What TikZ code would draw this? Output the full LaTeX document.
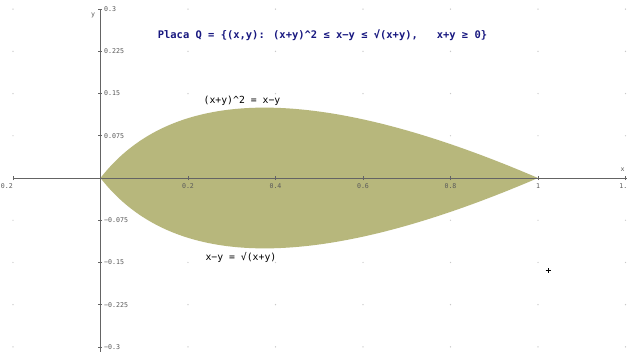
\documentclass[tikz,border=0pt]{standalone}
\usepackage{fontspec}
\newfontfamily\monof{DejaVu Sans Mono}
\definecolor{regionfill}{RGB}{183,183,124}
\definecolor{titleblue}{RGB}{24,24,128}
\definecolor{axisgray}{RGB}{100,100,100}
\definecolor{ticklab}{RGB}{90,90,90}
\definecolor{dotgray}{RGB}{200,200,200}
\begin{document}
\begin{tikzpicture}[x=437.5pt,y=563pt,
  axisline/.style={draw=axisgray,line width=0.9pt},
  tickmark/.style={draw=axisgray,line width=0.6pt},
  ticktext/.style={text=ticklab,font=\monof\fontsize{6.6}{7}\selectfont,inner sep=0pt},
  curvelabel/.style={font=\monof\fontsize{9.8}{11}\selectfont,inner sep=0pt},
  titletext/.style={font=\monof\bfseries\fontsize{10.45}{12}\selectfont,text=titleblue,inner sep=0pt},
  griddot/.style={fill=dotgray}]
\useasboundingbox (-0.22971,-0.30728) rectangle (1.20571,0.31616);
\clip (-0.22971,-0.30728) rectangle (1.20571,0.31616);
\fill[white] (-0.22971,-0.30728) rectangle (1.20571,0.31616);
% grid dots
\foreach \gx in {-0.2,0.2,0.4,0.6,0.8,1,1.2}{
  \foreach \gy in {-0.3,-0.225,-0.15,-0.075,0.075,0.15,0.225,0.3}{
    \fill[griddot] (\gx,\gy) circle[radius=0.7pt];
  }
}
% region
\fill[regionfill] plot[domain=0:1,samples=120,variable=\u] ({(\u+\u*\u)/2},{(\u-\u*\u)/2})
  -- plot[domain=1:0,samples=120,variable=\u] ({(\u*\u+\u)/2},{(\u*\u-\u)/2}) -- cycle;
% axes
\coordinate (xl) at (-0.2,0);
\coordinate (xr) at (1.2035,0);
\coordinate (yb) at (0,-0.31);
\coordinate (yt) at (0,0.301);
\draw[axisline] (xl) -- (xr);
\draw[axisline] (yb) -- (yt);
% x ticks
\foreach \tx in {-0.2,0.2,0.4,0.6,0.8,1,1.2}{
  \draw[tickmark] (\tx,0) ++(0,-2pt) -- ++(0,4pt);
}
\foreach \tx/\tl in {0.2/0.2,0.4/0.4,0.6/0.6,0.8/0.8,1/1}{
  \node[ticktext,anchor=north] at ([yshift=-5pt]\tx,0) {\tl};
}
\node[ticktext,anchor=north west] (xmin) at ([yshift=-5pt]-0.2283,0) {0.2};
\node[ticktext,anchor=north east] (xmax) at ([yshift=-5pt]1.2045,0) {1.};
% y ticks
\foreach \ty/\tl in {0.3/0.3,0.225/0.225,0.15/0.15,0.075/0.075,-0.075/{−0.075},-0.15/{−0.15},-0.225/{−0.225},-0.3/{−0.3}}{
  \draw[tickmark] (0,\ty) ++(-2pt,0) -- ++(4pt,0);
  \node[ticktext,anchor=west] at ([xshift=3.5pt]0,\ty) {\tl};
}
\node[ticktext] (ylab) at (-0.017,0.2895) {y};
\node[ticktext] (xlab) at (1.1936,0.0142) {x};
% labels
\node[titletext] (title) at (0.5074,0.254) {Placa Q = \{(x,y): (x+y)\^{}2 ≤ x−y ≤ √(x+y),\ \ \ x+y ≥ 0\}};
\node[curvelabel] (upper) at (0.3234,0.1368) {(x+y)\^{}2 = x−y};
\node[curvelabel] (lower) at (0.321,-0.1403) {x−y = √(x+y)};
% cursor mark
\coordinate (cur) at (1.0229,-0.1634);
\draw[black,line width=0.5pt] (cur) ++(-2.5pt,0) -- ++(5pt,0);
\draw[black,line width=0.5pt] (cur) ++(0,-2.5pt) -- ++(0,5pt);
\end{tikzpicture}
\end{document}
